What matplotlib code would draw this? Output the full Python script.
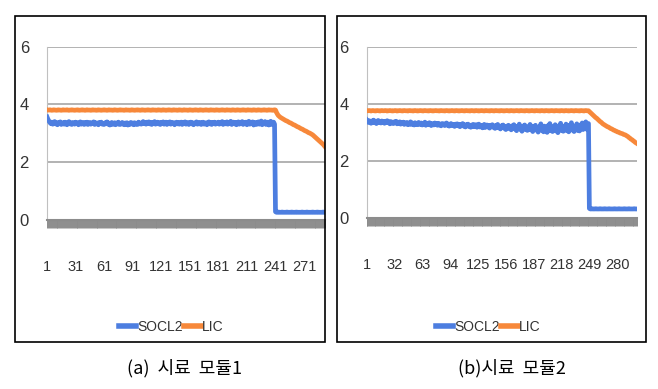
import numpy as np
import matplotlib
matplotlib.use('Agg')
import matplotlib.pyplot as plt
from matplotlib.patches import Rectangle
from matplotlib.lines import Line2D

# ---------------- data ----------------
a_socl2 = [
3.56,3.48,3.42,3.37,3.33,3.38,3.31,3.36,3.40,3.32,3.35,3.29,3.37,3.33,3.39,3.30,3.34,3.36,3.31,3.38,
3.33,3.29,3.36,3.40,3.32,3.35,3.30,3.37,3.34,3.31,3.38,3.33,3.36,3.29,3.35,3.39,3.31,3.34,3.37,3.30,
3.36,3.32,3.38,3.30,3.34,3.37,3.31,3.35,3.33,3.39,3.30,3.36,3.32,3.35,3.29,3.37,3.33,3.38,3.31,3.34,
3.30,3.36,3.33,3.39,3.31,3.35,3.28,3.34,3.37,3.30,3.33,3.36,3.29,3.35,3.32,3.38,3.30,3.34,3.31,3.37,
3.33,3.29,3.35,3.31,3.36,3.28,3.34,3.30,3.37,3.32,3.35,3.29,3.36,3.31,3.33,3.30,3.38,3.32,3.35,3.31,
3.36,3.40,3.33,3.37,3.31,3.38,3.34,3.39,3.32,3.36,3.30,3.37,3.33,3.40,3.31,3.35,3.38,3.32,3.36,3.30,
3.37,3.33,3.39,3.31,3.35,3.38,3.30,3.36,3.34,3.39,3.31,3.37,3.33,3.36,3.29,3.35,3.38,3.32,3.37,3.31,
3.34,3.38,3.30,3.36,3.33,3.39,3.31,3.35,3.37,3.30,3.34,3.38,3.32,3.36,3.29,3.35,3.33,3.39,3.31,3.36,
3.32,3.37,3.30,3.35,3.38,3.31,3.34,3.36,3.29,3.35,3.39,3.32,3.36,3.30,3.37,3.33,3.38,3.31,3.35,3.34,
3.38,3.31,3.36,3.33,3.40,3.30,3.35,3.37,3.32,3.39,3.31,3.36,3.34,3.41,3.30,3.35,3.38,3.32,3.37,3.29,
3.35,3.39,3.31,3.36,3.33,3.40,3.30,3.37,3.34,3.38,3.29,3.35,3.41,3.31,3.36,3.33,3.39,3.28,3.35,3.37,
3.30,3.36,3.39,3.31,3.35,3.42,3.29,3.36,3.33,3.40,3.30,3.35,3.38,3.28,3.36,3.41,3.30,3.34,3.38,3.31,
0.27,0.25,0.25,0.26,0.25,0.25,0.25,0.26,0.25,0.25,0.25,0.25,0.26,0.25,0.25,0.25,0.25,0.26,0.25,0.25,
0.25,0.25,0.26,0.25,0.25,0.25,0.25,0.25,0.26,0.25,0.25,0.25,0.25,0.26,0.25,0.25,0.25,0.25,0.25,0.26,
0.25,0.25,0.25,0.25,0.26,0.25,0.25,0.25,0.25,0.25,0.26,0.25,0.25,
]
a_lic = [
3.81,3.80,3.80,3.81,3.80,3.79,3.80,3.81,3.80,3.80,3.79,3.80,3.81,3.80,3.80,3.79,3.80,3.81,3.80,3.80,
3.80,3.81,3.80,3.79,3.80,3.80,3.81,3.80,3.80,3.79,3.80,3.80,3.81,3.80,3.79,3.80,3.80,3.81,3.80,3.80,
3.79,3.80,3.81,3.80,3.80,3.80,3.79,3.80,3.81,3.80,3.80,3.80,3.79,3.80,3.81,3.80,3.80,3.79,3.80,3.80,
3.81,3.80,3.80,3.79,3.80,3.81,3.80,3.80,3.80,3.79,3.80,3.81,3.80,3.80,3.79,3.80,3.80,3.81,3.80,3.80,
3.80,3.79,3.80,3.81,3.80,3.80,3.80,3.79,3.80,3.81,3.80,3.80,3.79,3.80,3.80,3.81,3.80,3.80,3.79,3.80,
3.81,3.80,3.80,3.79,3.80,3.80,3.81,3.80,3.80,3.79,3.80,3.81,3.80,3.80,3.80,3.79,3.80,3.81,3.80,3.80,
3.79,3.80,3.81,3.80,3.80,3.79,3.80,3.80,3.81,3.80,3.80,3.79,3.80,3.81,3.80,3.80,3.80,3.79,3.80,3.81,
3.80,3.80,3.79,3.80,3.81,3.80,3.80,3.80,3.79,3.80,3.81,3.80,3.80,3.79,3.80,3.80,3.81,3.80,3.80,3.79,
3.80,3.81,3.80,3.80,3.79,3.80,3.80,3.81,3.80,3.80,3.79,3.80,3.81,3.80,3.80,3.80,3.79,3.80,3.81,3.80,
3.80,3.79,3.80,3.80,3.81,3.80,3.80,3.79,3.80,3.81,3.80,3.80,3.80,3.79,3.80,3.81,3.80,3.80,3.79,3.80,
3.81,3.80,3.80,3.79,3.80,3.80,3.81,3.80,3.80,3.79,3.80,3.81,3.80,3.80,3.80,3.79,3.80,3.81,3.80,3.80,
3.79,3.80,3.81,3.80,3.80,3.79,3.80,3.80,3.81,3.80,3.80,3.79,3.80,3.81,3.80,3.80,3.80,3.79,3.80,3.81,
3.80,
3.72,3.66,3.61,3.58,3.55,3.53,3.51,3.49,3.47,3.45,3.43,3.42,3.40,3.38,3.36,3.35,3.33,3.31,3.29,3.28,
3.26,3.24,3.22,3.21,3.19,3.17,3.15,3.14,3.12,3.10,3.08,3.07,3.05,3.03,3.01,3.00,2.98,2.96,2.94,2.91,
2.88,2.85,2.82,2.79,2.76,2.73,2.70,2.67,2.64,2.61,2.57,2.53,
]
a_ticklabels = ['1', '31', '61', '91', '121', '151', '181', '211', '241', '271']

b_socl2 = [
3.43,3.38,3.34,3.40,3.36,3.31,3.39,3.35,3.42,3.33,3.37,3.30,3.38,3.41,3.34,3.36,3.32,3.39,3.35,3.37,
3.31,3.38,3.34,3.40,3.33,3.36,3.29,3.37,3.32,3.35,3.30,3.36,3.33,3.38,3.29,3.34,3.31,3.36,3.28,3.33,
3.30,3.35,3.27,3.32,3.29,3.34,3.26,3.31,3.28,3.36,3.27,3.32,3.30,3.25,3.33,3.28,3.31,3.26,3.34,3.29,
3.27,3.32,3.25,3.30,3.28,3.35,3.24,3.29,3.31,3.26,3.33,3.27,3.23,3.30,3.28,3.25,3.32,3.26,3.29,3.24,
3.31,3.25,3.28,3.22,3.30,3.26,3.29,3.23,3.27,3.32,3.24,3.28,3.21,3.26,3.30,3.23,3.27,3.25,3.20,3.28,
3.24,3.29,3.22,3.26,3.19,3.27,3.23,3.30,3.21,3.25,3.18,3.26,3.22,3.28,3.20,3.24,3.17,3.25,3.21,3.27,
3.19,3.23,3.26,3.17,3.22,3.28,3.18,3.24,3.20,3.15,3.23,3.27,3.16,3.21,3.25,3.18,3.22,3.14,3.24,3.19,
3.26,3.17,3.21,3.13,3.23,3.18,3.27,3.15,3.20,3.11,3.22,3.17,3.25,3.14,3.19,3.09,3.21,3.16,3.24,3.12,
3.18,3.08,3.22,3.14,3.26,3.11,3.17,3.05,3.20,3.13,3.28,3.10,3.16,3.03,3.21,3.12,3.25,3.09,3.15,3.06,
3.19,3.11,3.27,3.08,3.14,3.02,3.20,3.12,3.24,3.07,3.16,3.00,3.18,3.10,3.29,3.06,3.13,3.01,3.21,3.09,
3.15,2.99,3.23,3.08,3.30,3.05,3.14,3.02,3.19,3.11,3.26,3.04,3.17,2.98,3.22,3.09,3.31,3.06,3.13,3.03,
3.20,3.10,3.28,3.05,3.16,3.01,3.24,3.08,3.33,3.07,3.15,3.02,3.21,3.11,3.29,3.06,3.18,3.04,3.25,3.12,
3.32,3.09,3.22,3.14,3.36,3.10,3.27,3.30,
0.32,0.30,0.30,0.31,0.30,0.30,0.30,0.31,0.30,0.30,0.30,0.30,0.31,0.30,0.30,0.30,0.30,0.31,0.30,0.30,
0.30,0.30,0.31,0.30,0.30,0.30,0.30,0.30,0.31,0.30,0.30,0.30,0.30,0.31,0.30,0.30,0.30,0.30,0.30,0.31,
0.30,0.30,0.30,0.30,0.31,0.30,0.30,0.30,0.30,0.30,0.31,0.30,0.30,0.30,
]
b_lic = [
3.76,3.75,3.75,3.76,3.75,3.74,3.75,3.76,3.75,3.75,3.74,3.75,3.76,3.75,3.75,3.74,3.75,3.76,3.75,3.75,
3.75,3.76,3.75,3.74,3.75,3.75,3.76,3.75,3.75,3.74,3.75,3.75,3.76,3.75,3.74,3.75,3.75,3.76,3.75,3.75,
3.74,3.75,3.76,3.75,3.75,3.75,3.74,3.75,3.76,3.75,3.75,3.75,3.74,3.75,3.76,3.75,3.75,3.74,3.75,3.75,
3.76,3.75,3.75,3.74,3.75,3.76,3.75,3.75,3.75,3.74,3.75,3.76,3.75,3.75,3.74,3.75,3.75,3.76,3.75,3.75,
3.75,3.74,3.75,3.76,3.75,3.75,3.75,3.74,3.75,3.76,3.75,3.75,3.74,3.75,3.75,3.76,3.75,3.75,3.74,3.75,
3.76,3.75,3.75,3.74,3.75,3.75,3.76,3.75,3.75,3.74,3.75,3.76,3.75,3.75,3.75,3.74,3.75,3.76,3.75,3.75,
3.74,3.75,3.76,3.75,3.75,3.74,3.75,3.75,3.76,3.75,3.75,3.74,3.75,3.76,3.75,3.75,3.75,3.74,3.75,3.76,
3.75,3.75,3.74,3.75,3.76,3.75,3.75,3.75,3.74,3.75,3.76,3.75,3.75,3.74,3.75,3.75,3.76,3.75,3.75,3.74,
3.75,3.76,3.75,3.75,3.74,3.75,3.75,3.76,3.75,3.75,3.74,3.75,3.76,3.75,3.75,3.75,3.74,3.75,3.76,3.75,
3.75,3.74,3.75,3.75,3.76,3.75,3.75,3.74,3.75,3.76,3.75,3.75,3.75,3.74,3.75,3.76,3.75,3.75,3.74,3.75,
3.76,3.75,3.75,3.74,3.75,3.75,3.76,3.75,3.75,3.74,3.75,3.76,3.75,3.75,3.75,3.74,3.75,3.76,3.75,3.75,
3.74,3.75,3.76,3.75,3.75,3.74,3.75,3.75,3.76,3.75,3.75,3.74,3.75,3.76,3.75,3.75,3.75,3.74,3.75,3.76,
3.75,3.75,3.74,3.75,3.76,3.75,3.75,3.75,
3.72,3.69,3.66,3.63,3.60,3.57,3.54,3.51,3.49,3.46,3.43,3.40,3.37,3.35,3.32,3.29,3.27,
3.25,3.23,3.21,3.19,3.18,3.16,3.14,3.12,3.11,3.09,3.07,3.06,3.04,3.03,3.01,
3.00,2.99,2.97,2.96,2.95,2.94,2.92,2.91,2.90,2.88,
2.86,2.84,2.81,2.79,2.76,2.74,2.72,2.69,2.67,2.64,2.62,2.60,
]
b_ticklabels = ['1', '32', '63', '94', '125', '156', '187', '218', '249', '280']

series_names = ['SOCL2', 'LIC']
captions = ['(a)  시료  모듈1', '(b)시료  모듈2']
y_ticks = [0, 2, 4, 6]

# ---------------- styling ----------------
BLUE = '#4d7ee0'
ORANGE = '#f7883a'
GRID = '#a6a6a6'
TICKC = '#8c8c8c'
FONT = ['Liberation Sans', 'DejaVu Sans']
KFONT = ['Noto Sans CJK KR', 'DejaVu Sans']
W, H = 658, 389

fig = plt.figure(figsize=(W / 100, H / 100), dpi=100)


def fx(px):
    return px / W


def fy(py):
    return 1 - py / H


def panel(left, right, y0, y6, soc, lic, ticklabels, frame, leg_x, cap_x, caption):
    ax = fig.add_axes([fx(left), fy(y0), fx(right) - fx(left), fy(y6) - fy(y0)])
    x = np.arange(1, len(soc) + 1)
    ax.plot(x, soc, color=BLUE, lw=3.4, label=series_names[0], zorder=3)
    ax.plot(x, lic, color=ORANGE, lw=3.4, label=series_names[1], zorder=4)
    ax.set_xlim(1, len(soc))
    ax.set_ylim(0, 6)
    ax.set_yticks(y_ticks)
    ax.set_yticklabels([str(v) for v in y_ticks], fontsize=12, color='#333333', family=FONT)
    tick_pos = [int(t) for t in ticklabels]
    ax.set_xticks(tick_pos)
    ax.set_xticklabels(ticklabels, fontsize=10.5, color='#333333', family=FONT)
    ax.set_xticks(x, minor=True)
    ax.tick_params(axis='x', which='both', direction='out', length=6, width=0.7,
                   color=TICKC, pad=23)
    ax.tick_params(axis='y', length=0, pad=13)
    ax.yaxis.grid(True, color=GRID, lw=1.2)
    ax.set_axisbelow(True)
    for s in ['top', 'right']:
        ax.spines[s].set_visible(False)
    ax.spines['left'].set_color('#c0c0c0')
    ax.spines['left'].set_linewidth(0.8)
    ax.spines['bottom'].set_color(TICKC)
    ax.spines['bottom'].set_linewidth(1.5)

    fl, ft, fr, fb = frame
    fig.add_artist(Rectangle((fx(fl), fy(fb)), fx(fr) - fx(fl), fy(ft) - fy(fb),
                             transform=fig.transFigure, fill=False,
                             ec='black', lw=1.2, zorder=10))
    handles = [Line2D([], [], color=BLUE, lw=4), Line2D([], [], color=ORANGE, lw=4)]
    fig.legend(handles, series_names, loc='center', bbox_to_anchor=(fx(leg_x), fy(327)),
               ncol=2, frameon=False, handlelength=1.2, handletextpad=0.1,
               columnspacing=0.1,
               prop={'family': FONT, 'size': 10},
               labelcolor='#333333')
    fig.text(fx(cap_x), fy(368), caption, ha='center', va='center',
             family=KFONT, fontsize=13)
    return ax


panel(47, 325, 219.5, 46.7, a_socl2, a_lic, a_ticklabels,
      (15, 16, 325, 342), 171.5, 184.5, captions[0])
panel(366.5, 637, 217.5, 46.7, b_socl2, b_lic, b_ticklabels,
      (337, 16, 646, 342), 488.5, 511.7, captions[1])

fig.savefig('out.png', dpi=100)
